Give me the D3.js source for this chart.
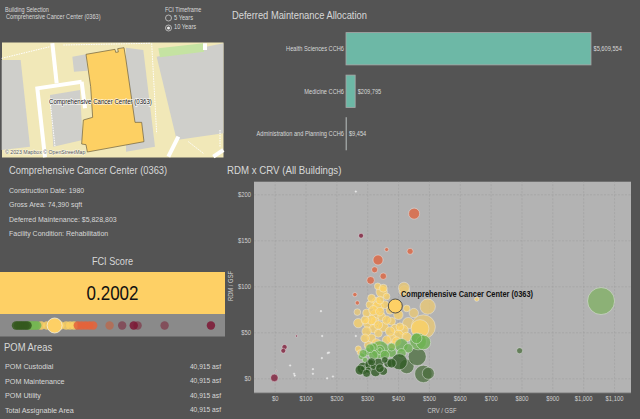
<!DOCTYPE html>
<html lang="en">
<head>
<meta charset="utf-8">
<title>RDM x CRV</title>
<script src="https://d3js.org/d3.v7.min.js"></script>
<style>
  html, body { margin: 0; padding: 0; background: #545454; overflow: hidden; }
  text { font-family: "Liberation Sans", Arial, sans-serif; }
</style>
</head>
<body>
<svg id="dash" width="640" height="419"></svg>
<script>
// deferred maintenance bars
var dmCategories = ["Health Sciences CCH6", "Medicine CCH6", "Administration and Planning CCH6"];
var dmValues = [5609554, 209795, 9454];

// building info panel
var buildingName = "Comprehensive Cancer Center (0363)";
var infoLines = ["Construction Date: 1980", "Gross Area: 74,390 sqft", "Deferred Maintenance: $5,828,803", "Facility Condition: Rehabilitation"];
var pomLabels = ["POM Custodial", "POM Maintenance", "POM Utility", "Total Assignable Area"];
var pomValues = ["40,915 asf", "40,915 asf", "40,915 asf", "40,915 asf"];

// axis ticks
var xTicks = [0, 100, 200, 300, 400, 500, 600, 700, 800, 900, 1000, 1100];
var yTicks = [0, 50, 100, 150, 200];

// FCI strip scores by class
var fciDarkGreen = [0, 0.01, 0.02, 0.03, 0.04, 0.05, 0.06];
var fciGreen = [0.07, 0.08, 0.09, 0.1, 0.11];
var fciYellow = [0.13, 0.16, 0.19, 0.23, 0.26, 0.28, 0.3];
var fciOrange = [0.32, 0.34, 0.36, 0.38, 0.4];
var fciFaded = [0.485];
var fciMaroonFaded = [0.55, 0.63, 0.77];
var fciMaroon = [0.61, 1.01];
var fciSelected = 0.2002;

// bubbles: [crv/gsf, rdm/gsf, area in k sqft]
var yellowPts = [[347,94,49],[334,100,17],[352,98,24],[363,89,17],[330,83,33],[309,80,24],[336,78,49],[357,80,24],
  [428,76,17],[401,69,33],[298,71,24],[325,69,38],[347,67,24],[379,62,24],[271,60,33],[303,60,38],[325,62,24],
  [352,56,38],[320,54,28],[298,51,33],[336,49,24],[390,54,28],[417,52.6,38],[314,43.5,28],[401,47,38],[379,43.5,33],
  [303,36,24],[384,36,24],[271,32,14],[276,28,11],[471,54,123],[655,86,7],
  [320,74,33],[341,72.5,28],[314,63.4,33],[336,58,28],[363,63.4,28],[293,63.4,24],[293,43.5,28],[330,38,33],
  [374,51,33],[363,41.7,28],[395,40,33],[428,45,33],[374,74,24],[314,87,24],[341,85,24],[406,56,24]];
var yellowPale = [[420,95,43],[419,98.5,46],[451,71,33],[496,78,90],[268,72,17],[433,60,49],[482,56,219]];
var greenPts = [[341,31,123],[341,31,33],[341,31,8],[303,29,24],[282,24,17],[320,34,24],[379,28,33],[411,36,68],
  [465,40,105],[482,39,81],[460,43.5,43],[293,20,11],
  [320,25.4,33],[357,25.4,33],[309,32.7,28],[379,34,24],[433,32.7,33],[411,27.3,33],[287,27,24]];
var greenPale = [[1058,84,276]];
var darkPts = [[287,11,55],[287,11,11],[309,15,38],[327,7.3,38],[336,16.4,38],[352,8,28],[368,16.4,28],[404,18,97],
  [320,13,14],[303,9,14],[277,9,38],[298,5.5,24],[314,18,24],[341,11,28],[357,20,17],[379,16.4,33]];
var darkPale = [[428,13,81],[462,23.6,123],[482,4.8,115],[498,5.5,55],[794,30,14]];
var orangePts = [[452,179,46],[363,140,6],[439,138,14],[335,128.6,38],[324,118,14],[352,111,16],[311,106.5,22],[260,91,7],[268,82,7]];
var maroonPts = [[280,155,9],[-1,0.5,22],[32,34,10],[28,30,9]];
var maroonSmall = [[5,8,1],[71,46,2]];
var tinyPts = [[263,203,1],[150,73,1],[154,46,1],[263,46,1],[176,28,1],[172,27.5,1],[153,22,1],[50,14,1],[63,5,1],[65,3,1],[124,10,1],[124,5,1],[170,0,1],[189,2,1]];
var selectedPt = [391, 78.6, 74.39];

// map outlines, traced from the basemap
var mapBlocks = [
  [[5,180],[62,180],[90,440],[5,450]],
  [[150,285],[240,270],[248,420],[160,440]],
  [[378,143],[430,150],[465,440],[378,455]],
  [[217,170],[258,163],[262,212],[222,215]],
  [[470,170],[670,130],[670,400],[530,420]]
];
var mapPark = [[475,145],[610,130],[612,155],[480,172]];
var mapRoads = [
  [[157,130],[170,250]],
  [[245,245],[112,265],[135,472]],
  [[245,245],[255,325]],
  [[505,470],[535,410]],
  [[615,130],[615,150]],
  [[640,470],[670,450]]
];
var mapPaths = [
  [[5,175],[150,140]],
  [[190,135],[450,130]],
  [[455,130],[470,400]],
  [[150,300],[165,440]],
  [[660,390],[660,440]],
  [[565,425],[610,460]]
];
var mapBuilding = [[258,163],[345,148],[347,157],[355,156],[353,146],[372,143],[378,180],[405,367],[425,367],[432,425],[262,456],[258,434],[245,432],[250,360],[278,352],[272,260]];

var textCol = "#d8d8d8";
var svg = d3.select("#dash");

// the source text is set narrow, so scale it horizontally about its anchor
function squeeze(sel, f) {
  sel.each(function() {
    var x0 = +this.getAttribute("x") || 0;
    var old = this.getAttribute("transform") || "";
    this.setAttribute("x", 0);
    this.setAttribute("transform", old + " translate(" + x0 + ",0) scale(" + f + ",1)");
  });
  return sel;
}

function label(x, y, str, size, f, fill, anchor) {
  var t = svg.append("text").attr("x", x).attr("y", y).attr("font-size", size)
    .attr("fill", fill || textCol).attr("text-anchor", anchor || "start").text(str);
  return squeeze(t, f);
}

// ---- filters
label(5, 12, "Building Selection", 6.5, .85);
label(6, 19.5, buildingName, 6.5, .86);
label(165, 12, "FCI Timeframe", 6.5, .85);
label(174, 20.5, "5 Years", 6.5, .88);
label(174, 29.5, "10 Years", 6.5, .88);
svg.append("circle").attr("cx", 168.5).attr("cy", 18).attr("r", 3).attr("fill", "none").attr("stroke", "#ddd").attr("stroke-width", .7);
svg.append("circle").attr("cx", 168.5).attr("cy", 28).attr("r", 3).attr("fill", "none").attr("stroke", "#ddd").attr("stroke-width", .7);
svg.append("circle").attr("cx", 168.5).attr("cy", 28).attr("r", 1.5).attr("fill", "#eee");

// ---- map
var m = d3.scaleLinear().domain([0, 3]).range([0, 1]);
var mapLine = d3.line().x(function(d){ return m(d[0]); }).y(function(d){ return m(d[1]); });
var mapG = svg.append("g");
mapG.append("rect").attr("x", 2).attr("y", 42.5).attr("width", 221.5).attr("height", 115).attr("fill", "#f1e8b8");
mapG.selectAll(".block").data(mapBlocks).enter().append("path").attr("d", function(d){ return mapLine(d) + "Z"; }).attr("fill", "#cfcfcb");
mapG.append("path").attr("d", mapLine(mapPark) + "Z").attr("fill", "#c5e3a2");
mapG.selectAll(".road").data(mapRoads).enter().append("path").attr("d", mapLine).attr("fill", "none").attr("stroke", "#fff").attr("stroke-width", 4);
mapG.selectAll(".walk").data(mapPaths).enter().append("path").attr("d", mapLine).attr("fill", "none").attr("stroke", "#fff").attr("stroke-width", 1).attr("stroke-dasharray", "1.5,1");
mapG.append("path").attr("d", mapLine(mapBuilding) + "Z").attr("fill", "#fdd063").attr("stroke", "#6b6040").attr("stroke-width", .7);
label(49, 104.5, buildingName, 7.5, .81, "#111").style("paint-order", "stroke").attr("stroke", "rgba(255,255,255,.75)").attr("stroke-width", 1.5);
label(5, 154.5, "© 2023 Mapbox © OpenStreetMap", 6, .87, "#555").style("paint-order", "stroke").attr("stroke", "rgba(255,255,255,.6)").attr("stroke-width", 1.2);

// ---- info panel
label(9, 174, buildingName, 10.5, .89);
squeeze(svg.selectAll(".info").data(infoLines).enter().append("text")
  .attr("x", 9).attr("y", function(d, i){ return 193 + i * 14.4; })
  .attr("font-size", 7.5).attr("fill", textCol).text(function(d){ return d; }), .93);
label(112.5, 265, "FCI Score", 10.5, .87, textCol, "middle");

// ---- FCI band and strip
svg.append("rect").attr("x", 0).attr("y", 272).attr("width", 225).attr("height", 42).attr("fill", "#fed065");
label(112.5, 300, fciSelected.toFixed(4), 21, .81, "#111", "middle");
svg.append("rect").attr("x", 0).attr("y", 314).attr("width", 225).attr("height", 22.5).attr("fill", "#8a8a8a");
var fciX = d3.scaleLinear().domain([0, 1]).range([16, 209]);
var stripGroups = [
  [fciYellow, "#fdd263", 0.8], [fciGreen, "#76b653", 0.9], [fciDarkGreen, "#35591f", 0.85],
  [fciOrange, "#e5633a", 0.85], [fciFaded, "#b0705a", 1], [fciMaroonFaded, "#80404f", 0.8], [fciMaroon, "#7d1534", 0.85]
];
stripGroups.forEach(function(g) {
  svg.append("g").selectAll("circle").data(g[0]).enter().append("circle")
    .attr("cx", function(d){ return fciX(d); }).attr("cy", 325.5).attr("r", 4.2)
    .attr("fill", g[1]).attr("fill-opacity", g[2]);
});
svg.append("circle").attr("cx", fciX(fciSelected)).attr("cy", 325.5).attr("r", 7.5).attr("fill", "#fed065").attr("stroke", "#f4f0e0").attr("stroke-width", .8);

// ---- POM table
label(4, 351, "POM Areas", 10.5, .9);
squeeze(svg.selectAll(".pomL").data(pomLabels).enter().append("text")
  .attr("x", 5).attr("y", function(d, i){ return 369.5 + i * 14.4; })
  .attr("font-size", 7.5).attr("fill", textCol).text(function(d){ return d; }), .96);
squeeze(svg.selectAll(".pomV").data(pomValues).enter().append("text")
  .attr("x", 221).attr("y", function(d, i){ return 369 + i * 14.4; }).attr("text-anchor", "end")
  .attr("font-size", 7.5).attr("fill", textCol).text(function(d){ return d; }), .89);

// ---- bars
label(232, 19, "Deferred Maintenance Allocation", 11, .85);
var barX = d3.scaleLinear().domain([0, dmValues[0]]).range([346, 591]);
var barY = d3.scaleBand().domain(dmCategories).range([27.5, 155]).paddingInner(0.24).paddingOuter(0.12);
svg.selectAll(".bar").data(dmCategories).enter().append("rect")
  .attr("x", barX(0)).attr("y", function(d){ return barY(d); })
  .attr("width", function(d, i){ return barX(dmValues[i]) - barX(0); })
  .attr("height", barY.bandwidth())
  .attr("fill", "#6db8a6").attr("stroke", "#a9a9a9").attr("stroke-width", .8);
squeeze(svg.selectAll(".barL").data(dmCategories).enter().append("text")
  .attr("x", 344).attr("y", function(d){ return barY(d) + barY.bandwidth() / 2 + 2.4; })
  .attr("text-anchor", "end").attr("font-size", 7).attr("fill", textCol).text(function(d){ return d; }), .81);
squeeze(svg.selectAll(".barV").data(dmValues).enter().append("text")
  .attr("x", function(d){ return barX(d) + 2.5; }).attr("y", function(d, i){ return barY(dmCategories[i]) + barY.bandwidth() / 2 + 2.4; })
  .attr("font-size", 7).attr("fill", textCol).text(function(d){ return "$" + d3.format(",")(d); }), .81);

// ---- scatter
label(227, 174, "RDM x CRV (All Buildings)", 11, .88);
var x = d3.scaleLinear().domain([-67, 1155]).range([254, 631]);
var y = d3.scaleLinear().domain([-15.6, 213.7]).range([392.7, 181.7]);
var r = d3.scaleSqrt().domain([0, selectedPt[2]]).range([0, 7]);

svg.append("rect").attr("x", 254).attr("y", 181.7).attr("width", 377).attr("height", 211).attr("fill", "#b3b3b3");
var xAxis = svg.append("g").attr("transform", "translate(0,392.7)")
  .call(d3.axisBottom(x).tickValues(xTicks).tickSize(-211).tickPadding(4).tickFormat(d3.format("$,")));
var yAxis = svg.append("g").attr("transform", "translate(254,0)")
  .call(d3.axisLeft(y).tickValues(yTicks).tickSize(-377).tickPadding(3).tickFormat(d3.format("$,")));
[xAxis, yAxis].forEach(function(a) {
  a.select(".domain").attr("stroke", "none");
  a.selectAll("line").attr("stroke", "#a0a0a0").attr("stroke-width", .6).attr("stroke-dasharray", "2,1.5");
  a.selectAll("text").attr("fill", "#d0d0d0").attr("font-size", 6.5);
  squeeze(a.selectAll("text"), .9);
});
svg.append("line").attr("x1", 254).attr("x2", 631).attr("y1", 392.7).attr("y2", 392.7).attr("stroke", "#999");
label(442, 413, "CRV / GSF", 6.5, .9, "#d0d0d0", "middle");
label(0, 0, "RDM / GSF", 6.5, .9, "#d0d0d0", "middle").attr("transform", function() {
  return "translate(233,286) rotate(-90) " + this.getAttribute("transform");
});

var bubbleGroups = [
  [yellowPale, "#e8c877", 0.8], [darkPale, "#4b6d3e", 0.75], [greenPale, "#7fb061", 0.75],
  [yellowPts, "#fdd263", 0.72], [greenPts, "#6cb14f", 0.75], [darkPts, "#2e5a23", 0.78],
  [orangePts, "#e0603a", 0.75], [maroonPts, "#7d1534", 0.75], [maroonSmall, "#7d1534", 0.6], [tinyPts, "#eeeeee", 0.9]
];
bubbleGroups.forEach(function(g) {
  svg.append("g").selectAll("circle").data(g[0]).enter().append("circle")
    .attr("cx", function(d){ return x(d[0]); }).attr("cy", function(d){ return y(d[1]); })
    .attr("r", function(d){ return r(d[2]); })
    .attr("fill", g[1]).attr("fill-opacity", g[2])
    .attr("stroke", "#eee").attr("stroke-opacity", .75).attr("stroke-width", .6);
});
svg.append("circle").attr("cx", x(selectedPt[0])).attr("cy", y(selectedPt[1])).attr("r", r(selectedPt[2]))
  .attr("fill", "#fed065").attr("stroke", "#444").attr("stroke-width", .9);
label(401, 297.5, buildingName, 8.5, .875, "#111").attr("font-weight", "bold");
</script>
</body>
</html>
